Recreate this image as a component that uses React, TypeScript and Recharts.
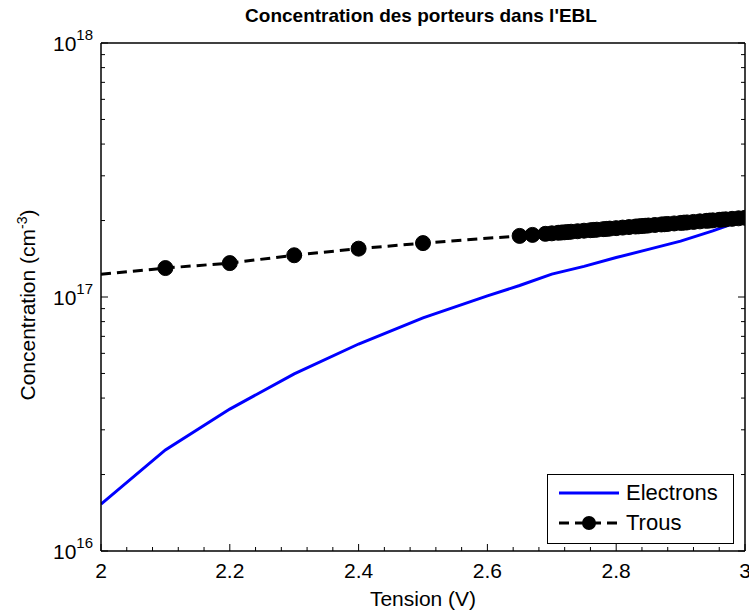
import { ComposedChart, Line, XAxis, YAxis } from 'recharts'

const FONT = '"Liberation Sans", Arial, Helvetica, sans-serif'

const xTicks = [2, 2.2, 2.4, 2.6, 2.8, 3]
const xMinorTicks = [
  2.04, 2.08, 2.12, 2.16, 2.24, 2.28, 2.32, 2.36, 2.44, 2.48, 2.52, 2.56,
  2.64, 2.68, 2.72, 2.76, 2.84, 2.88, 2.92, 2.96,
]
const yTicks = [1e16, 1e17, 1e18]
const yMinorTicks = [
  2e16, 3e16, 4e16, 5e16, 6e16, 7e16, 8e16, 9e16,
  2e17, 3e17, 4e17, 5e17, 6e17, 7e17, 8e17, 9e17,
]

// Electrons
const electronV = [2, 2.1, 2.2, 2.3, 2.4, 2.5, 2.6, 2.65, 2.7, 2.75, 2.8, 2.85, 2.9, 2.95, 3]
const electronN = [
  1.53e16, 2.5e16, 3.62e16, 4.98e16, 6.53e16, 8.27e16, 1.01e17, 1.11e17,
  1.23e17, 1.32e17, 1.43e17, 1.54e17, 1.66e17, 1.82e17, 2.02e17,
]

// Trous (holes)
const trousV = [
  2, 2.1, 2.2, 2.3, 2.4, 2.5, 2.65, 2.67, 2.69, 2.7, 2.71, 2.715, 2.72, 2.725,
  2.73, 2.74, 2.75, 2.76, 2.765, 2.77, 2.78, 2.785, 2.79, 2.8, 2.81, 2.82, 2.83,
  2.835, 2.84, 2.845, 2.85, 2.86, 2.87, 2.875, 2.88, 2.89, 2.9, 2.905, 2.91,
  2.92, 2.93, 2.94, 2.945, 2.95, 2.96, 2.965, 2.97, 2.98, 2.99, 3,
]
const trousN = [
  1.23e17, 1.3e17, 1.36e17, 1.46e17, 1.55e17, 1.63e17, 1.74e17, 1.756e17,
  1.773e17, 1.781e17, 1.79e17, 1.794e17, 1.798e17, 1.802e17, 1.807e17,
  1.815e17, 1.824e17, 1.832e17, 1.837e17, 1.841e17, 1.85e17, 1.854e17,
  1.859e17, 1.867e17, 1.876e17, 1.885e17, 1.894e17, 1.898e17, 1.903e17,
  1.907e17, 1.912e17, 1.921e17, 1.93e17, 1.934e17, 1.939e17, 1.948e17,
  1.957e17, 1.962e17, 1.966e17, 1.975e17, 1.985e17, 1.994e17, 1.999e17,
  2.003e17, 2.013e17, 2.017e17, 2.022e17, 2.031e17, 2.041e17, 2.05e17,
]

const electronData = electronV.map((v, i) => ({ v, n: electronN[i] }))
const trousData = trousV.map((v, i) => ({ v, n: trousN[i] }))

const allXTicks = [...xTicks, ...xMinorTicks].sort((a, b) => a - b)
const allYTicks = [...yTicks, ...yMinorTicks].sort((a, b) => a - b)

const MAJOR = 7
const MINOR = 4
const X_GAP = 12
const Y_GAP = 8

const isMajorX = (v: number) => xTicks.includes(v)
const isMajorY = (v: number) => yTicks.includes(v)

function BottomTick(props: any) {
  const { x, y, payload } = props
  const axisY = y - X_GAP
  const major = isMajorX(payload.value)
  return (
    <g>
      <line x1={x} x2={x} y1={axisY} y2={axisY - (major ? MAJOR : MINOR)} stroke="#000" />
      {major && (
        <text x={x} y={y + 15} textAnchor="middle" fontSize={21} fontFamily={FONT} fill="#000">
          {payload.value}
        </text>
      )}
    </g>
  )
}

function TopTick(props: any) {
  const { x, y, payload } = props
  const len = isMajorX(payload.value) ? MAJOR : MINOR
  return <line x1={x} x2={x} y1={y} y2={y + len} stroke="#000" />
}

function LeftTick(props: any) {
  const { x, y, payload } = props
  const axisX = x + Y_GAP
  const major = isMajorY(payload.value)
  const exp = Math.round(Math.log10(payload.value))
  return (
    <g>
      <line x1={axisX} x2={axisX + (major ? MAJOR : MINOR)} y1={y} y2={y} stroke="#000" />
      {major && (
        <text x={x} y={y + 8} textAnchor="end" fontFamily={FONT} fill="#000">
          <tspan fontSize={21}>10</tspan>
          <tspan fontSize={15} dy={-11}>{exp}</tspan>
        </text>
      )}
    </g>
  )
}

function RightTick(props: any) {
  const { x, y, payload } = props
  const len = isMajorY(payload.value) ? MAJOR : MINOR
  return <line x1={x} x2={x - len} y1={y} y2={y} stroke="#000" />
}

function TrousDot(props: any) {
  const { cx, cy, index } = props
  // first point sits on the left edge, no marker drawn there
  if (index === 0) return <g key={`t${index}`} />
  return <circle key={`t${index}`} cx={cx} cy={cy} r={7.5} fill="#000" stroke="#000" />
}

const axisLine = { stroke: '#000', strokeWidth: 1.5 }

export default function App() {
  return (
    <div style={{ position: 'absolute', left: 0, top: 0, width: 749, height: 616, background: '#fff' }}>
      <ComposedChart width={749} height={616} margin={{ top: 42, right: 0, bottom: 0, left: 0 }}>
        <XAxis
          xAxisId="x"
          dataKey="v"
          type="number"
          domain={[2, 3]}
          allowDataOverflow
          ticks={allXTicks}
          interval={0}
          height={65}
          tickSize={0}
          tickMargin={X_GAP}
          tickLine={false}
          axisLine={axisLine}
          tick={<BottomTick />}
        />
        <XAxis
          xAxisId="top"
          orientation="top"
          type="number"
          domain={[2, 3]}
          allowDataOverflow
          ticks={allXTicks}
          interval={0}
          height={1}
          tickSize={0}
          tickMargin={0}
          tickLine={false}
          axisLine={axisLine}
          tick={<TopTick />}
        />
        <YAxis
          yAxisId="y"
          scale="log"
          type="number"
          domain={[1e16, 1e18]}
          allowDataOverflow
          ticks={allYTicks}
          interval={0}
          width={101}
          tickSize={0}
          tickMargin={Y_GAP}
          tickLine={false}
          axisLine={axisLine}
          tick={<LeftTick />}
        />
        <YAxis
          yAxisId="right"
          orientation="right"
          scale="log"
          type="number"
          domain={[1e16, 1e18]}
          allowDataOverflow
          ticks={allYTicks}
          interval={0}
          width={4}
          tickSize={0}
          tickMargin={0}
          tickLine={false}
          axisLine={axisLine}
          tick={<RightTick />}
        />
        <Line
          xAxisId="x"
          yAxisId="y"
          data={electronData}
          dataKey="n"
          type="linear"
          stroke="#0000ff"
          strokeWidth={3}
          dot={false}
          isAnimationActive={false}
        />
        <Line
          xAxisId="x"
          yAxisId="y"
          data={trousData}
          dataKey="n"
          type="linear"
          stroke="#000"
          strokeWidth={3}
          strokeDasharray="10 6"
          dot={TrousDot}
          isAnimationActive={false}
        />
      </ComposedChart>

      <div
        style={{
          position: 'absolute', left: 421, top: 5, transform: 'translateX(-50%)',
          fontFamily: FONT, fontWeight: 'bold', fontSize: 19, whiteSpace: 'nowrap',
        }}
      >
        Concentration des porteurs dans l'EBL
      </div>
      <div
        style={{
          position: 'absolute', left: 423, top: 587, transform: 'translateX(-50%)',
          fontFamily: FONT, fontSize: 21, whiteSpace: 'nowrap',
        }}
      >
        Tension (V)
      </div>
      <div
        style={{
          position: 'absolute', left: 27, top: 305, transform: 'translate(-50%, -50%) rotate(-90deg)',
          fontFamily: FONT, fontSize: 21, whiteSpace: 'nowrap',
        }}
      >
        Concentration (cm<sup style={{ fontSize: 14 }}>-3</sup>)
      </div>

      <div
        style={{
          position: 'absolute', left: 547, top: 474, width: 185, height: 68,
          border: '1px solid #000', background: '#fff', fontFamily: FONT, fontSize: 22,
        }}
      >
        <div style={{ position: 'absolute', left: 11, top: 5, display: 'flex', alignItems: 'center' }}>
          <svg width={60} height={24}>
            <line x1={0} x2={60} y1={12} y2={12} stroke="#0000ff" strokeWidth={3} />
          </svg>
          <span style={{ marginLeft: 7 }}>Electrons</span>
        </div>
        <div style={{ position: 'absolute', left: 11, top: 35, display: 'flex', alignItems: 'center' }}>
          <svg width={60} height={24}>
            <line x1={0} x2={60} y1={12} y2={12} stroke="#000" strokeWidth={3} strokeDasharray="10 6" />
            <circle cx={30} cy={12} r={7} fill="#000" />
          </svg>
          <span style={{ marginLeft: 7 }}>Trous</span>
        </div>
      </div>
    </div>
  )
}
